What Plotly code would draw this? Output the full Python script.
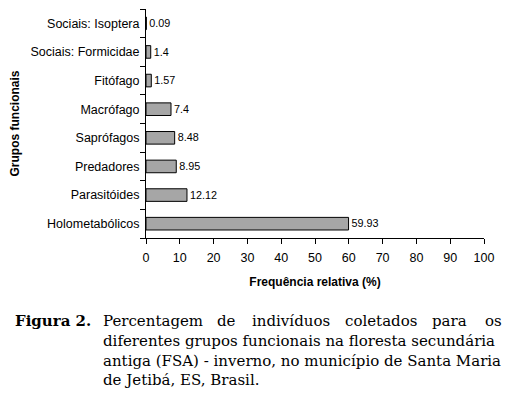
import plotly.graph_objects as go

categories = ["Sociais: Isoptera", "Sociais: Formicidae", "Fitófago", "Macrófago",
              "Saprófagos", "Predadores", "Parasitóides", "Holometabólicos"]
values = [0.09, 1.4, 1.57, 7.4, 8.48, 8.95, 12.12, 59.93]
x_ticks = [0, 10, 20, 30, 40, 50, 60, 70, 80, 90, 100]

sans = "Liberation Sans, Arial, sans-serif"
serif = "DejaVu Serif, serif"

# the page body adds an 8px margin, so the figure is drawn 8px smaller and shifted
OFF = 8
FW, FH = 511 - OFF, 394 - OFF
L, R, T, B = 146 - OFF, 484 - OFF, 9 - OFF, 238 - OFF
W, H = R - L, B - T

def px(x):
    return (x - OFF - L) / W

def py(y):
    return (B - (y - OFF)) / H

fig = go.Figure(go.Bar(
    x=values, y=categories, orientation="h",
    marker=dict(color="#a6a6a6", line=dict(color="black", width=1)),
    width=0.44,
    text=[str(v) for v in values], textposition="outside",
    textfont=dict(family=sans, size=12, color="black"),
    cliponaxis=False,
))

fig.update_layout(
    width=FW, height=FH,
    margin=dict(l=L, r=FW - R, t=T, b=FH - B),
    plot_bgcolor="white", paper_bgcolor="white",
    showlegend=False,
    font=dict(family=sans, size=12, color="black"),
    xaxis=dict(range=[0, 100], tickvals=x_ticks, showgrid=False, zeroline=False,
               showline=True, linecolor="black", linewidth=1, automargin=False,
               ticks="outside", ticklen=5, tickcolor="black", ticklabelstandoff=3,
               tickfont=dict(size=12.5),
               title=dict(text="<b>Frequência relativa (%)</b>", font=dict(size=12), standoff=13)),
    yaxis=dict(categoryorder="array", categoryarray=categories[::-1],
               showgrid=False, zeroline=False, automargin=False,
               showline=True, linecolor="black", linewidth=1,
               ticks="outside", ticklen=5, tickcolor="black", tickson="boundaries",
               ticklabelstandoff=3,
               tickfont=dict(size=12.5),
               title=dict(text="<b>Grupos funcionais</b>", font=dict(size=12), standoff=8)),
)

cap_font = dict(family=serif, size=15, color="black")
line_y = [320.5, 340.5, 360.5, 380.5]

fig.add_annotation(text="<b>Figura 2.</b>", xref="paper", yref="paper",
                   x=px(13), y=py(line_y[0]), xanchor="left", yanchor="middle",
                   showarrow=False, font=cap_font)

# first line is justified: place its words individually
first_words = ["Percentagem", "de", "indivíduos", "coletados", "para", "os"]
first_x = [101, 215, 250, 343, 430, 483]
for w, x in zip(first_words, first_x):
    fig.add_annotation(text=w, xref="paper", yref="paper",
                       x=px(x), y=py(line_y[0]), xanchor="left", yanchor="middle",
                       showarrow=False, font=cap_font)

other_lines = [
    "diferentes grupos funcionais na floresta secundária",
    "antiga (FSA) - inverno, no município de Santa Maria",
    "de Jetibá, ES, Brasil.",
]
for i, line in enumerate(other_lines):
    fig.add_annotation(text=line, xref="paper", yref="paper",
                       x=px(101), y=py(line_y[i + 1]), xanchor="left", yanchor="middle",
                       showarrow=False, font=cap_font)

fig.write_html("out.html")
